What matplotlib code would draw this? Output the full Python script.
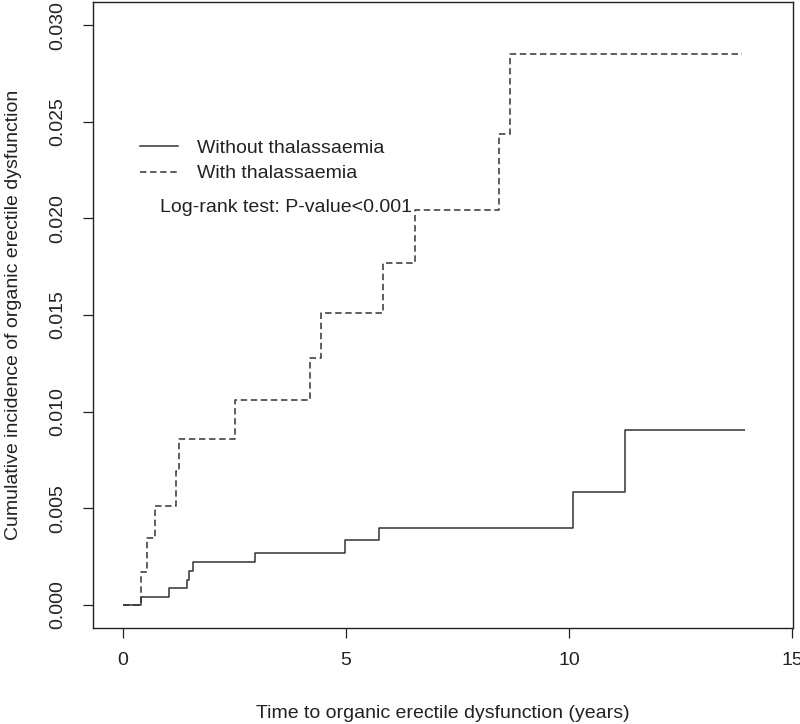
import matplotlib
matplotlib.use("Agg")
import matplotlib.pyplot as plt
from matplotlib.lines import Line2D

plt.rcParams['font.family'] = ['Liberation Sans', 'DejaVu Sans']

# Data: step functions (time in years, cumulative incidence)
without_t = [0.0, 0.40, 1.03, 1.43, 1.49, 1.58, 2.96, 4.98, 5.74, 10.09, 11.26, 13.95]
without_y = [0.0, 0.00038, 0.00088, 0.00128, 0.00175, 0.00224, 0.00269, 0.00334, 0.00396, 0.00586, 0.00904, 0.00904]

with_t = [0.0, 0.40, 0.55, 0.72, 1.19, 1.25, 2.51, 4.19, 4.43, 5.84, 6.55, 8.44, 8.68, 13.87]
with_y = [0.0, 0.00172, 0.00345, 0.00513, 0.00691, 0.00859, 0.01059, 0.0128, 0.01509, 0.01771, 0.02046, 0.02439, 0.02853, 0.02853]

x_ticks = [0, 5, 10, 15]
y_ticks = [0.000, 0.005, 0.010, 0.015, 0.020, 0.025, 0.030]
y_ticklabels = ["0.000", "0.005", "0.010", "0.015", "0.020", "0.025", "0.030"]

series_labels = ["Without thalassaemia", "With thalassaemia"]
annotation = "Log-rank test: P-value<0.001"
xlabel = "Time to organic erectile dysfunction (years)"
ylabel = "Cumulative incidence of organic erectile dysfunction"

W, H = 800, 724
fig = plt.figure(figsize=(W / 100, H / 100), dpi=100)
left, right, top, bottom = 93, 793, 2, 628
aw, ah = right - left, bottom - top
ax = fig.add_axes([left / W, 1 - bottom / H, aw / W, ah / H])

col = '#333333'
txtcol = '#222222'
fs = 14
dash = (0, (4.2, 2.4))
ax.step(without_t, without_y, where='post', color=col, lw=1.1, solid_capstyle='butt')
ax.step(with_t, with_y, where='post', color=col, lw=1.1, linestyle=dash)

ax.set_xlim(-0.67, 15.02)
ax.set_ylim(-0.0012, 0.0312)
ax.set_xticks(x_ticks)
ax.set_xticklabels([str(v) for v in x_ticks])
ax.set_yticks(y_ticks)
ax.set_yticklabels(y_ticklabels, rotation=90, va='center')

for s in ax.spines.values():
    s.set_linewidth(1.0)
    s.set_color(txtcol)
ax.tick_params(axis='both', direction='out', length=7.5, width=0.9, colors=txtcol,
               labelsize=fs, labelcolor=txtcol)
ax.tick_params(axis='x', pad=10)
ax.tick_params(axis='y', pad=12)

ax.set_xlabel(xlabel, fontsize=fs, color=txtcol, va='top')
ax.xaxis.set_label_coords(0.5, -(705 - bottom) / ah)
ax.set_ylabel(ylabel, fontsize=fs, color=txtcol)
ax.yaxis.set_label_coords(-(left - 22) / aw, 0.5)

handles = [Line2D([], [], color=col, lw=1.1),
           Line2D([], [], color=col, lw=1.1, linestyle=dash)]
leg = ax.legend(handles, series_labels, loc='upper left',
                bbox_to_anchor=((140 - left) / aw, 1 - (139 - top) / ah),
                frameon=False, fontsize=fs, handlelength=1.95, handletextpad=1.0,
                labelspacing=0.42, borderpad=0, borderaxespad=0)
for t in leg.get_texts():
    t.set_color(txtcol)

ax.text((160 - left) / aw, 1 - (207 - top) / ah, annotation,
        transform=ax.transAxes, fontsize=fs, color=txtcol, va='center', ha='left')

fig.savefig('out.png', dpi=100)
